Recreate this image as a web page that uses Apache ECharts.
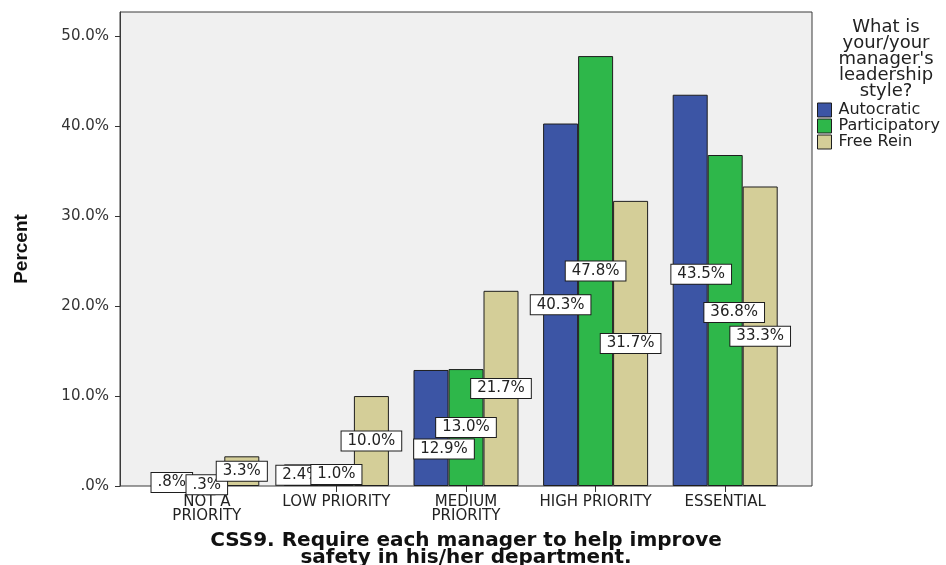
<!DOCTYPE html>
<html>
<head>
<meta charset="utf-8">
<script src="https://cdn.jsdelivr.net/npm/echarts@6/dist/echarts.min.js"></script>
<style>
html,body{margin:0;padding:0;background:#fff;}
#chart{width:946px;height:565px;}
</style>
</head>
<body>
<div id="chart"></div>
<script>
// ---- data ----
const categories = ['NOT A\nPRIORITY', 'LOW PRIORITY', 'MEDIUM\nPRIORITY', 'HIGH PRIORITY', 'ESSENTIAL'];
const seriesNames = ['Autocratic', 'Participatory', 'Free Rein'];
const autocratic = [0.8, 2.4, 12.9, 40.3, 43.5];
const participatory = [0.3, 1.0, 13.0, 47.8, 36.8];
const freeRein = [3.3, 10.0, 21.7, 31.7, 33.3];
const yTickValues = [0, 10, 20, 30, 40, 50];
const legendTitle = 'What is\nyour/your\nmanager\'s\nleadership\nstyle?';
const yAxisTitle = 'Percent';
const xAxisTitle = 'CSS9. Require each manager to help improve\nsafety in his/her department.';

// ---- styling (not data) ----
const colors = ['#3c55a5', '#2eb74a', '#d4ce98'];
const FONT = '"DejaVu Sans", Verdana, sans-serif';
const yMax = 52.7;
// manual label nudges mimicking SPSS collision avoidance: [seriesIndex][dataIndex]
const labelNudges = { '0-2': [13, 21], '0-4': [11, -16], '1-4': [9, -8], '1-1': [0, -7] };

function pctLabel(v) {
  let s = v.toFixed(1);
  if (s.startsWith('0')) s = s.slice(1);
  return s + '%';
}

const allValues = [autocratic, participatory, freeRein];

const series = allValues.map((vals, si) => ({
  name: seriesNames[si],
  type: 'bar',
  xAxisIndex: 0,
  yAxisIndex: 0,
  barWidth: 35,
  barGap: '0%',
  itemStyle: { color: colors[si], borderColor: '#1e1e1e', borderWidth: 1 },
  label: {
    show: true,
    position: 'inside',
    formatter: p => pctLabel(p.value),
    backgroundColor: '#ffffff',
    borderColor: '#1e1e1e',
    borderWidth: 1,
    padding: [2, 6],
    fontFamily: FONT,
    fontSize: 15,
    lineHeight: 15,
    color: '#222'
  },
  data: vals.map((v, di) => {
    const nudge = labelNudges[si + '-' + di];
    return nudge ? { value: v, label: { offset: nudge } } : { value: v };
  })
}));

const option = {
  backgroundColor: '#ffffff',
  animation: false,
  color: colors,
  grid: [
    { left: 142, right: 156, top: 12, bottom: 79, show: false },
    { left: 120, right: 134, top: 12, bottom: 79, show: true, backgroundColor: '#f0f0f0', borderColor: '#3a3a3a', borderWidth: 1, z: 0 }
  ],
  xAxis: [
    {
      type: 'category', gridIndex: 0, data: categories,
      axisLine: { show: false },
      axisTick: { show: true, alignWithLabel: true, length: 6, lineStyle: { color: '#333' } },
      axisLabel: { fontFamily: FONT, fontSize: 15, lineHeight: 14, color: '#222', margin: 9, interval: 0 }
    },
    { type: 'value', gridIndex: 1, show: false, min: 0, max: 1 }
  ],
  yAxis: [
    { type: 'value', gridIndex: 0, min: 0, max: yMax, show: false },
    {
      type: 'value', gridIndex: 1, min: 0, max: yMax, interval: 10,
      axisLine: { show: true, lineStyle: { color: '#3a3a3a' } },
      axisTick: { show: true, length: 5, lineStyle: { color: '#333' } },
      splitLine: { show: false },
      axisLabel: {
        fontFamily: FONT, fontSize: 15, color: '#333', margin: 11, showMaxLabel: false,
        formatter: v => yTickValues.includes(v) ? (v === 0 ? '.0%' : v.toFixed(1) + '%') : ''
      }
    }
  ],
  legend: {
    orient: 'vertical',
    left: 817,
    top: 102,
    padding: 0,
    icon: 'rect',
    itemWidth: 14,
    itemHeight: 14,
    itemGap: 0,
    data: seriesNames,
    itemStyle: { borderColor: '#1e1e1e', borderWidth: 1 },
    textStyle: { fontFamily: FONT, fontSize: 16, lineHeight: 16, color: '#222', padding: [0, 0, 0, 2] },
    selectedMode: false
  },
  title: {
    text: legendTitle,
    left: 881,
    top: 14,
    textAlign: 'center',
    textStyle: { fontFamily: FONT, fontSize: 18, fontWeight: 'normal', lineHeight: 16, color: '#222' }
  },
  graphic: [
    {
      type: 'text', x: 22, y: 249, rotation: Math.PI / 2,
      style: { text: yAxisTitle, fontFamily: '"Liberation Sans Narrow", "Liberation Sans", Arial, sans-serif', fontWeight: 'bold', fontSize: 19, fill: '#111', align: 'center', verticalAlign: 'middle' }
    },
    {
      type: 'text', x: 466, y: 532,
      style: { text: xAxisTitle, fontFamily: FONT, fontWeight: 'bold', fontSize: 20, lineHeight: 17, fill: '#111', align: 'center', verticalAlign: 'top' }
    }
  ],
  series: series
};

const chart = echarts.init(document.getElementById('chart'), null, { renderer: 'canvas' });
chart.setOption(option);
</script>
</body>
</html>
